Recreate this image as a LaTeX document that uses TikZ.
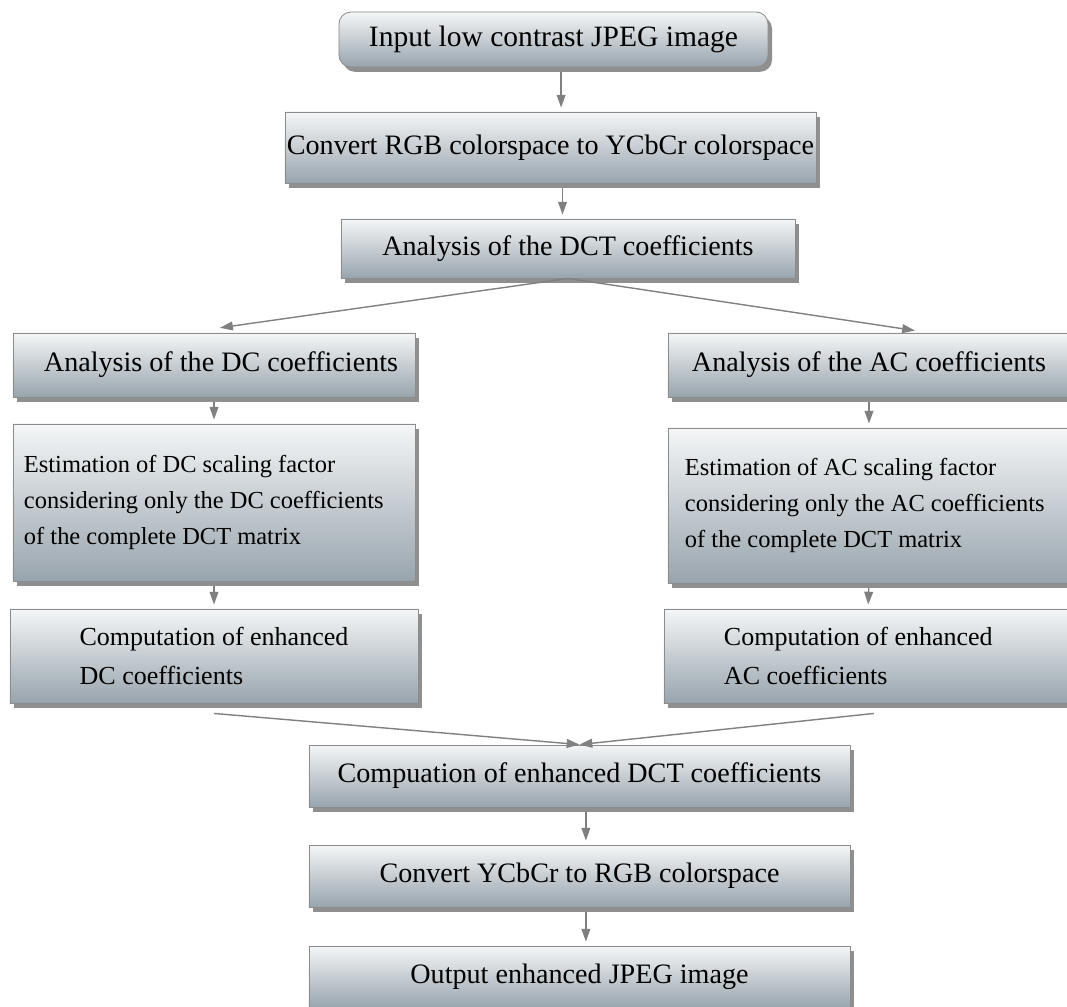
\documentclass[tikz,border=0pt]{standalone}
\usepackage{fontspec}
\setmainfont{Liberation Serif}
\usepackage{tikz}
\usetikzlibrary{arrows.meta}
\usetikzlibrary{shadows}
\definecolor{boxtop}{RGB}{244,246,247}
\definecolor{boxbottom}{RGB}{152,164,173}
\definecolor{boxline}{RGB}{140,140,140}
\definecolor{flowgray}{RGB}{128,128,128}

\begin{document}
\begin{tikzpicture}[x=0.025cm,y=-0.025cm,
	stage/.style={draw=boxline,line width=0.6pt,top color=boxtop,bottom color=boxbottom,
		drop shadow={shadow xshift=0.1cm,shadow yshift=-0.12cm,opacity=0.55,fill=black!80},
		inner sep=0pt,font=\fontsize{20}{24}\selectfont},
	flow/.style={draw=flowgray,line width=1pt,-{Triangle[length=0.32cm,width=0.22cm]},
		shorten <=0.12cm,shorten >=0.1cm}]
%		\draw[very thin,densely dashed] (0,0) grid[step=50] (1067,1007);
		\useasboundingbox (0,0) rectangle (1067,1007);
		\node [stage,rounded corners=0.3cm,minimum width=10.725cm,minimum height=1.375cm,
		font=\fontsize{21}{25}\selectfont] (input) at (553.5,39.5) {Input low contrast JPEG image};
		\node [stage,minimum width=13.275cm,minimum height=1.775cm] (rgbycc) at (550.5,147.5)
		{Convert RGB colorspace to YCbCr colorspace};
		\node [stage,minimum width=11.35cm,minimum height=1.475cm] (dct) at (568,248.5)
		{Analysis of the DCT coefficients};
		\node [stage,minimum width=10.05cm,minimum height=1.6cm] (dc) at (214,365)
		{\hspace{0.35cm}Analysis of the DC coefficients};
		\node [stage,minimum width=10.05cm,minimum height=1.6cm] (ac) at (869,365)
		{Analysis of the AC coefficients};
		\node [stage,minimum height=3.925cm,text width=9.5cm,inner xsep=0.275cm,align=flush left,
		font=\fontsize{17.4}{25.6}\selectfont] (dcscale) at (214,502.5)
		{Estimation of DC scaling factor\\considering only the DC coefficients\\of the complete DCT matrix};
		\node [stage,minimum height=3.875cm,text width=9.2cm,inner xsep=0.425cm,align=flush left,
		font=\fontsize{17.4}{25.6}\selectfont] (acscale) at (869,505.5)
		{Estimation of AC scaling factor\\considering only the AC coefficients\\of the complete DCT matrix};
		\node [stage,minimum width=10.2cm,minimum height=2.35cm,align=left,
		font=\fontsize{18.5}{27.7}\selectfont] (dcenh) at (214,656)
		{Computation of enhanced\\DC coefficients};
		\node [stage,minimum height=2.35cm,text width=7.2cm,inner xsep=1.5cm,align=flush left,
		font=\fontsize{18.5}{27.7}\selectfont] (acenh) at (868,656)
		{Computation of enhanced\\AC coefficients};
		\node [stage,minimum width=13.525cm,minimum height=1.55cm] (dctenh) at (579.5,776)
		{Compuation of enhanced DCT coefficients};
		\node [stage,minimum width=13.525cm,minimum height=1.55cm] (yccrgb) at (579.5,876)
		{Convert YCbCr to RGB colorspace};
		\node [stage,minimum width=13.525cm,minimum height=1.55cm] (output) at (579.5,977)
		{Output enhanced JPEG image};
		\draw [flow] ([xshift=0.19cm]input.south) -- ([xshift=0.19cm]input.south |- rgbycc.north);
		\draw [flow] ([xshift=0.3cm]rgbycc.south) -- ([xshift=0.3cm]rgbycc.south |- dct.north);
		\draw [flow,shorten <=0pt,shorten >=0pt] (dct.south) -- ([xshift=0.15cm,yshift=0.12cm]dc.north);
		\draw [flow,shorten <=0pt,shorten >=0pt] (dct.south) -- ([xshift=1.15cm,yshift=0.05cm]ac.north);
		\draw [flow] (dc.south) -- (dcscale.north);
		\draw [flow] (dcscale.south) -- (dcenh.north);
		\draw [flow] (ac.south) -- (acscale.north);
		\draw [flow] (acscale.south) -- (acenh.north);
		\draw [flow,shorten <=0pt,shorten >=0pt] ([yshift=-0.25cm]dcenh.south) -- (dctenh.north);
		\draw [flow,shorten <=0pt,shorten >=0pt] ([xshift=0.15cm,yshift=-0.25cm]acenh.south) -- (dctenh.north);
		\draw [flow] ([xshift=0.16cm]dctenh.south) -- ([xshift=0.16cm]dctenh.south |- yccrgb.north);
		\draw [flow] ([xshift=0.16cm]yccrgb.south) -- ([xshift=0.16cm]yccrgb.south |- output.north);
	\end{tikzpicture}
\end{document}
